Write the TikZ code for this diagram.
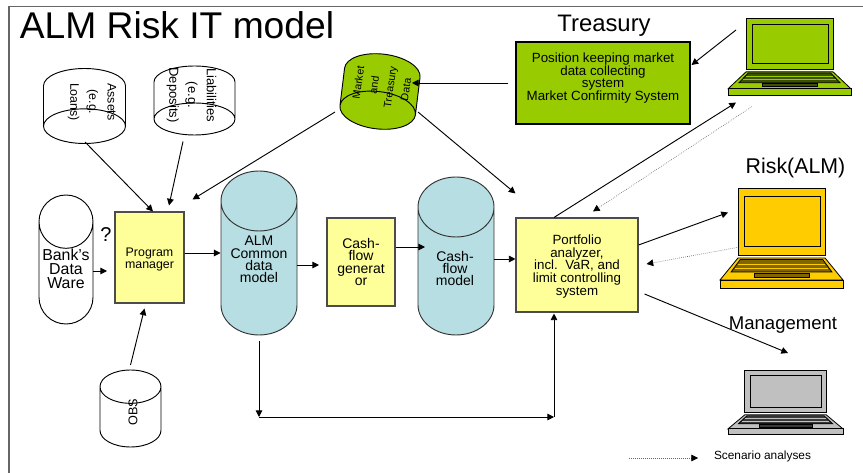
\documentclass[tikz,border=0pt]{standalone}
\usepackage{fontspec}
\setmainfont{Liberation Sans}
\usepackage{xcolor}
\usetikzlibrary{arrows.meta,shapes.geometric}
\definecolor{BoxY}{HTML}{FFFF99}
\definecolor{CylB}{HTML}{B7DEE2}
\definecolor{TrG}{HTML}{99CC00}
\definecolor{RiskO}{HTML}{FFCC00}
\definecolor{MgmtG}{HTML}{C0C0C0}
\tikzset{Arw/.style={-{Triangle[length=5pt,width=5pt]},line width=.7pt},
  Dot/.style={-{Triangle[length=5pt,width=5pt,black]},densely dotted,line width=.5pt,black!60},
  Box/.style={draw=black!70,line width=.8pt,fill=BoxY,align=center,inner sep=0pt},
  Cyl/.style={cylinder,draw=black,line width=.7pt,anchor=shape center,inner sep=0pt},
  Lap/.style={draw=black,line width=.6pt},
  Lbl/.style={inner sep=0pt,align=center}}
\newcommand{\fsz}[2]{\fontsize{#1}{#2}\selectfont}
\newcommand{\CylCore}{\phantom{\rule{10pt}{10pt}}}
\newcommand{\Laptop}[7]{%
  \begin{scope}[shift={(#2,#3)},xscale=#4,yscale=#5]
    \draw[Lap,fill=#6] (0.146,0) rectangle (0.854,0.67);
    \draw[Lap,fill=#6] (0.195,0.08) rectangle (0.813,0.585);
    \draw[Lap,fill=#6] (0.146,0.70) -- (0.854,0.70) -- (1,0.92) -- (0,0.92) -- cycle;
    \draw[Lap,fill=#7] (0.165,0.715) -- (0.835,0.715) -- (0.91,0.84) -- (0.09,0.84) -- cycle;
    \draw[#6,line width=.5pt] (0.15,0.76) -- (0.85,0.76);
    \draw[#6,line width=.5pt] (0.125,0.80) -- (0.875,0.80);
    \draw[Lap,fill=#7] (0.276,0.855) rectangle (0.73,0.89);
    \draw[Lap,fill=#6] (0,0.92) rectangle (1,1);
  \end{scope}
  \node[inner sep=0pt,anchor=north west,minimum width=#4*.75pt,minimum height=#5*.75pt] (#1) at (#2,#3) {};
}
\begin{document}
\begin{tikzpicture}[x=.75pt,y=-.75pt]
    \useasboundingbox (0,0) rectangle (863,473);
    \draw[black!60,line width=.9pt] (9,473) -- (9,6.5) -- (863,6.5);
    \node[Lbl,anchor=base,font=\fsz{27.9}{30}] (title) at (177,39) {ALM Risk IT model};
    \node[Lbl,anchor=base,font=\fsz{17.9}{20}] (trsTxt) at (604,31.5) {Treasury};
    \node[Lbl,anchor=base,font=\fsz{16}{18}] (rskTxt) at (795.5,174) {Risk(ALM)};
    \node[Lbl,anchor=base,font=\fsz{13.9}{16}] (mgtTxt) at (783,330) {Management};
    \node[Lbl,anchor=base,font=\fsz{15}{17}] (qmark) at (106,241.5) {?};
    \node[Lbl,anchor=base,font=\fsz{8.9}{10}] (scnTxt) at (762.5,459.5) {Scenario analyses};

    % sources
    \node[Cyl,rotate=-90,minimum width=82*.75pt,minimum height=75*.75pt,aspect=2.6,fill=white] (assets) at (84.5,106) {\CylCore};
    \node[Cyl,rotate=-90,minimum width=81*.75pt,minimum height=69*.75pt,aspect=2.4,fill=white] (liab) at (194.5,100.5) {\CylCore};
    \node[Cyl,rotate=-97,minimum width=76*.75pt,minimum height=75*.75pt,aspect=2.8,fill=TrG] (mkt) at (380,91.5) {\CylCore};
    \node[Cyl,shape border rotate=90,minimum height=129*.75pt,minimum width=54*.75pt,aspect=4,fill=white] (bank) at (66,259.5) {\CylCore};
    \node[Cyl,shape border rotate=90,minimum height=77*.75pt,minimum width=61*.75pt,aspect=2.5,fill=white] (obs) at (130.5,408.5) {\CylCore};
    \node[Lbl,rotate=-90,font=\fsz{9.3}{14}] (assetsTxt) at (92,102) {Assets\\(e.g.\\Loans)};
    \node[Lbl,rotate=-90,font=\fsz{9.8}{14}] (liabTxt) at (191.5,95) {Liabilities\\(e.g.\\Deposits)};
    \node[Lbl,rotate=82,font=\fsz{8}{12}] (mktTxt) at (382,86) {Market\\and\\Treasury\\Data};
    \node[Lbl,font=\fsz{11.9}{10.7}] (bankTxt) at (66,269) {Bank's\\Data\\Ware};
    \node[Lbl,rotate=90,font=\fsz{9.5}{11}] (obsTxt) at (133,412) {OBS};

    % models
    \node[Cyl,shape border rotate=90,minimum height=164*.75pt,minimum width=76*.75pt,aspect=4.5,fill=CylB,draw=black!80] (almCdm) at (259,253) {\CylCore};
    \node[Cyl,shape border rotate=90,minimum height=158*.75pt,minimum width=76*.75pt,aspect=4.5,fill=CylB,draw=black!80] (cfMod) at (456,256) {\CylCore};
    \node[Lbl,font=\fsz{10.5}{9.3}] (almTxt) at (259,259.5) {ALM\\Common\\data\\model};
    \node[Lbl,font=\fsz{10.5}{9.3}] (cfTxt) at (455,268.5) {Cash-\\flow\\model};

    \node[Box,minimum width=69*.75pt,minimum height=91*.75pt] (prog) at (149.5,257.5) {};
    \node[Lbl,font=\fsz{9.3}{8.3}] (progTxt) at (149.5,259.5) {Program\\manager};
    \node[Box,minimum width=68*.75pt,minimum height=88*.75pt,font=\fsz{10.5}{9.3}] (gen) at (361,262) {Cash-\\flow\\generat\\or};
    \node[Box,minimum width=122*.75pt,minimum height=94*.75pt] (port) at (577,265) {};
    \node[Lbl,font=\fsz{10}{9.4}] (portTxt) at (577,266.5) {Portfolio\\analyzer,\\incl.\ \ VaR, and\\limit controlling\\system};
    \node[Box,draw=black,fill=TrG,minimum width=174*.75pt,minimum height=82*.75pt,font=\fsz{10}{9.4}] (trs) at (603,83) {Position keeping market\\data collecting\\system\\Market Confirmity System\\\mbox{}};

    \Laptop{lapT}{728}{18}{123}{77}{TrG}{black!60!TrG}
    \Laptop{lapR}{720}{188}{123}{100}{RiskO}{black!50!RiskO}
    \Laptop{lapM}{728}{370}{115}{64}{MgmtG}{black!70!MgmtG}

    \coordinate (lowL) at (259,417);
    \coordinate (lowR) at (554,417);
    \coordinate (legA) at (629,458);
    \coordinate (legB) at (698,458);

    \begin{scope}[Arw]
      \draw ([shift={(0.5,36)}]assets.shape center) -- ([shift={(3.5,0)}]prog.north);
      \draw ([shift={(-11.5,41)}]liab.shape center) -- ([shift={(19.5,-6)}]prog.north);
      \draw ([shift={(-45,20.5)}]mkt.shape center) -- ([shift={(8,-12)}]prog.north east);
      \draw ([shift={(38,20.5)}]mkt.shape center) -- ([shift={(0,-24)}]port.north west);
      \draw ([shift={(-7,0)}]trs.west) -- ([shift={(32,-8.5)}]mkt.shape center);
      \draw ([shift={(8,12)}]lapT.north west) -- ([shift={(1,-18)}]trs.east);
      \draw ([shift={(-23,0)}]port.north) -- ([shift={(8,7)}]lapT.south west);
      \draw ([shift={(0,-20)}]port.east) -- ([shift={(8,-76)}]lapR.south west);
      \draw ([shift={(6,29)}]port.east) -- ([shift={(60,-17)}]lapM.north west);
      \draw (bank.east |- 0,271) -- (107,271);
      \draw (prog.east |- 0,253) -- (almCdm.west |- 0,253);
      \draw (almCdm.east |- 0,265) -- (319,265);
      \draw (gen.east |- 0,247) -- (425,247);
      \draw (cfMod.east |- 0,259) -- (port.west |- 0,259);
    \end{scope}
    \draw[Arw] ([yshift=-4.5pt]almCdm.south) -- (lowL);
    \draw[Arw] (lowL) -- (lowR);
    \draw[Arw] (lowR) -- ([shift={(-23,1)}]port.south);
    \draw[Arw] (obs.north |- 0,365) -- ([shift={(-5,5)}]prog.south);

    \begin{scope}[Dot]
      \draw ([shift={(24,11)}]lapT.south west) -- ([shift={(16,-6)}]port.north);
      \draw ([shift={(17,-41)}]lapR.south west) -- ([shift={(8,-1)}]port.east);
      \draw (legA) -- (legB);
    \end{scope}
\end{tikzpicture}
\end{document}
